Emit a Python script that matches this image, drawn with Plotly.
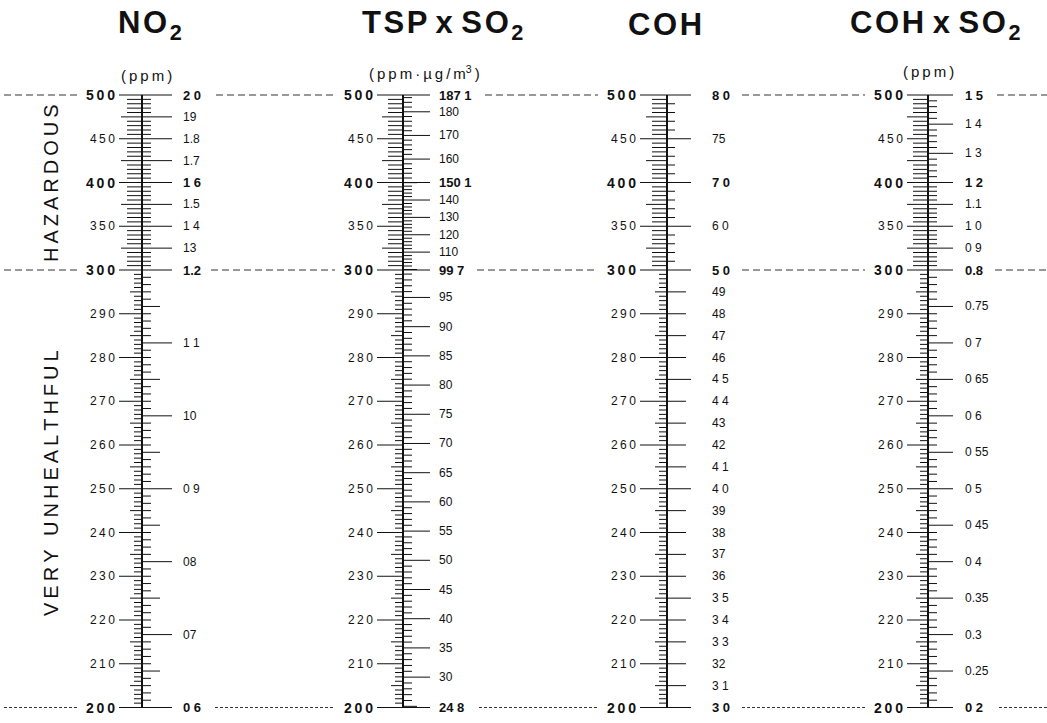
import numpy as np
import plotly.graph_objects as go

W, H = 1047, 723

# ---------------- data ----------------
index_breaks = [200, 300, 400, 500]
index_labels = [500, 450, 400, 350, 300, 290, 280, 270, 260, 250, 240, 230, 220, 210, 200]
index_bold = [500, 400, 300, 200]
level_lines = [500, 300, 200]
zone_names = ["HAZARDOUS", "VERY UNHEALTHFUL"]

TS = "\u2009"  # thin space used as letter spacing
HS = "\u200a"  # hair space
titles = [f"N{HS}O{HS}<sub>2</sub>",
          f"T{HS}S{HS}P x S{HS}O{HS}<sub>2</sub>",
          f"C{HS}O{HS}H",
          f"C{HS}O{HS}H x S{HS}O{HS}<sub>2</sub>"]
units = [f"({TS}p{TS}p{TS}m{TS})",
         f"({TS}p{TS}p{TS}m{TS}·{TS}µ{TS}g{TS}/{TS}m<sup>3</sup>{TS})",
         "",
         f"({TS}p{TS}p{TS}m{TS})"]

no2_breaks = [0.6, 1.2, 1.6, 2.0]
no2_vals = [2.0, 1.9, 1.8, 1.7, 1.6, 1.5, 1.4, 1.3, 1.2, 1.1, 1.0, 0.9, 0.8, 0.7, 0.6]
no2_text = ["2 0", "19", "1.8", "1.7", "1 6", "1.5", "1 4", "13", "1.2", "1 1", "10", "0 9", "08", "07", "0 6"]

tsp_breaks = [24.8, 99.7, 150.1, 187.1]
tsp_vals = [187.1, 180, 170, 160, 150.1, 140, 130, 120, 110, 99.7, 95, 90, 85, 80, 75, 70,
            65, 60, 55, 50, 45, 40, 35, 30, 24.8]
tsp_text = ["187 1", "180", "170", "160", "150 1", "140", "130", "120", "110", "99 7", "95", "90",
            "85", "80", "75", "70", "65", "60", "55", "50", "45", "40", "35", "30", "24 8"]

coh_breaks = [3.0, 5.0, 7.0, 8.0]
coh_vals = [8.0, 7.5, 7.0, 6.0, 5.0, 4.9, 4.8, 4.7, 4.6, 4.5, 4.4, 4.3, 4.2, 4.1, 4.0,
            3.9, 3.8, 3.7, 3.6, 3.5, 3.4, 3.3, 3.2, 3.1, 3.0]
coh_text = ["8 0", "75", "7 0", "6 0", "5 0", "49", "48", "47", "46", "4 5", "4 4", "43", "42",
            "4 1", "4 0", "39", "38", "37", "36", "3 5", "3 4", "3 3", "32", "3 1", "3 0"]

cs_breaks = [0.2, 0.8, 1.2, 1.5]
cs_vals = [1.5, 1.4, 1.3, 1.2, 1.1, 1.0, 0.9, 0.8, 0.75, 0.7, 0.65, 0.6, 0.55, 0.5, 0.45,
           0.4, 0.35, 0.3, 0.25, 0.2]
cs_text = ["1 5", "1 4", "1 3", "1 2", "1.1", "1 0", "0 9", "0.8", "0.75", "0 7", "0 65", "0 6",
           "0 55", "0 5", "0 45", "0 4", "0.35", "0.3", "0.25", "0 2"]

scale_breaks = [no2_breaks, tsp_breaks, coh_breaks, cs_breaks]
scale_vals = [no2_vals, tsp_vals, coh_vals, cs_vals]
scale_text = [no2_text, tsp_text, coh_text, cs_text]
# minor / medium tick steps (concentration units) per segment
minor_steps = [[0.01, 0.02, 0.02], [1, 2, 2], [0.1, 0.2, 0.1], [0.01, 0.02, 0.02]]
medium_steps = [[0.05, 0.1, 0.1], [5, 10, 10], [0.5, 1.0, 0.5], [0.05, 0.1, 0.1]]

# ---------------- layout geometry ----------------
scale_x = [142, 403, 667, 928]
left_off = [25, 28, 29, 23]
right_off = [39, 34, 43, 35]
right_len = [(9, 18, 30), (9, 14, 27), (8, 24, 19), (9, 14, 25)]
title_x = [150, 442, 665, 935]
unit_x = [146, 424, 665, 928]
unit_px = [76, 73, 73, 72]
FONT = "Liberation Sans, Arial, sans-serif"
INK = "#111111"

PX_TOP, PX_BOT = 95.0, 707.5


def pos(v):
    v = np.asarray(v, dtype=float)
    return np.where(v <= 300, v - 200, 100 + (v - 300) * 0.2)


P_TOP = float(pos(500))
ppu = (PX_BOT - PX_TOP) / P_TOP
y_min = -(H - PX_BOT) / ppu
y_max = P_TOP + PX_TOP / ppu


def ypaper(px):
    return 1 - px / H


def conc_to_index(c, breaks):
    return np.interp(c, breaks, index_breaks)


fig = go.Figure()


def add_segments(xs, ys, width=1, dash=None, color=INK):
    fig.add_trace(go.Scatter(x=xs, y=ys, mode="lines", hoverinfo="skip",
                             line=dict(color=color, width=width, dash=dash)))


annotations = []

for s in range(4):
    sx = scale_x[s]
    # main vertical line
    add_segments([sx, sx], [float(pos(200)), float(pos(500))], width=2)

    # left (index) ticks
    xs, ys = [], []
    for v in range(200, 501):
        if v <= 300:
            if v in index_labels:
                L = left_off[s] - 2
            elif v % 5 == 0:
                L = 12
            else:
                L = 8
        else:
            if v % 5 != 0:
                continue
            if v in index_labels:
                L = left_off[s] - 2
            elif v % 25 == 0:
                L = 21
            else:
                L = 15
        p = float(pos(v))
        xs += [sx - L, sx, None]
        ys += [p, p, None]
    add_segments(xs, ys)

    # left labels
    for v in index_labels:
        t = TS.join(str(v))
        bold = v in index_bold
        annotations.append(dict(
            x=sx - left_off[s], y=float(pos(v)), xref="x", yref="y",
            text=t, showarrow=False, xanchor="right", yanchor="middle",
            font=dict(family=FONT, size=14 if bold else 12, color=INK,
                      weight="bold" if bold else "normal")))

    # right (pollutant) ticks
    br = scale_breaks[s]
    vals = scale_vals[s]
    l_min, l_med, l_lab = right_len[s]
    xs, ys = [], []
    for k in range(3):
        st, md = minor_steps[s][k], medium_steps[s][k]
        lo, hi = br[k], br[k + 1]
        start = np.ceil(lo / st - 1e-6) * st
        for c in np.arange(start, hi + 1e-9, st):
            if any(abs(c - lv) < 1e-6 for lv in vals):
                continue
            is_med = abs(c / md - round(c / md)) < 1e-6
            L = l_med if is_med else l_min
            p = float(pos(conc_to_index(c, br)))
            xs += [sx, sx + L, None]
            ys += [p, p, None]
    for c in vals:
        md_any = any(abs(c / m - round(c / m)) < 1e-6 for m in medium_steps[s])
        L = max(l_lab, l_med) if md_any else l_lab
        p = float(pos(conc_to_index(c, br)))
        xs += [sx, sx + L, None]
        ys += [p, p, None]
    add_segments(xs, ys)

    # right labels
    for c, t in zip(vals, scale_text[s]):
        bold = any(abs(c - b) < 1e-6 for b in br)
        annotations.append(dict(
            x=sx + right_off[s], y=float(pos(conc_to_index(c, br))), xref="x", yref="y",
            text=t, showarrow=False, xanchor="left", yanchor="middle",
            font=dict(family=FONT, size=13 if bold else 12, color=INK,
                      weight="bold" if bold else "normal")))

    # titles and units
    annotations.append(dict(x=title_x[s], y=ypaper(25), xref="x", yref="paper",
                            text=titles[s], showarrow=False,
                            xanchor="center", yanchor="middle",
                            font=dict(family=FONT, size=31, color=INK, weight="bold")))
    if units[s]:
        annotations.append(dict(x=unit_x[s], y=ypaper(unit_px[s]), xref="x", yref="paper",
                                text=units[s], showarrow=False,
                                xanchor="center", yanchor="middle",
                                font=dict(family=FONT, size=15, color=INK)))

# dashed level lines in the gaps between scales
right_w = [[27, 40, 24, 24], [22, 32, 24, 22], [26, 34, 24, 26]]
for li, lv in enumerate(level_lines):
    p = float(pos(lv))
    dash = "7px,4px" if lv != 200 else "3px,2px"
    gaps = [(4, scale_x[0] - left_off[0] - 38)]
    for s in range(3):
        gaps.append((scale_x[s] + right_off[s] + right_w[li][s] + 8,
                     scale_x[s + 1] - left_off[s + 1] - 40))
    gaps.append((scale_x[3] + right_off[3] + right_w[li][3] + 10, W))
    xs, ys = [], []
    for a, b in gaps:
        xs += [a, b, None]
        ys += [p, p, None]
    add_segments(xs, ys, width=1, dash=dash, color="#333333")

# zone names (rotated)
zone_px = [183, 483]
for name, px in zip(zone_names, zone_px):
    annotations.append(dict(x=51, y=ypaper(px), xref="x", yref="paper", text=TS.join(name),
                            showarrow=False, textangle=-90, xanchor="center", yanchor="middle",
                            font=dict(family=FONT, size=20, color=INK)))

fig.update_layout(
    width=W, height=H, margin=dict(l=0, r=0, t=0, b=0),
    paper_bgcolor="white", plot_bgcolor="white", showlegend=False,
    xaxis=dict(range=[0, W], visible=False, fixedrange=True),
    yaxis=dict(range=[y_min, y_max], visible=False, fixedrange=True),
    annotations=annotations,
)

fig.write_html("out.html")
